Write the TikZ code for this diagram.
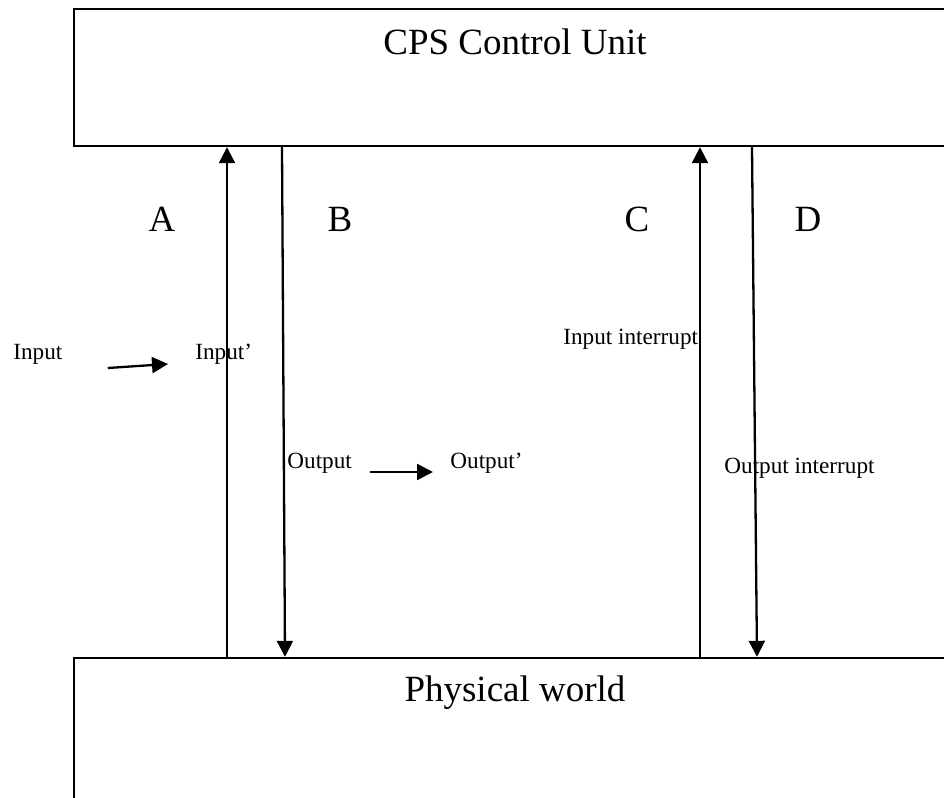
\documentclass[tikz,border=0pt]{standalone}
\usepackage{fontspec}
\setmainfont{Liberation Serif}
\usetikzlibrary{arrows.meta,calc}

\begin{document}
\begin{tikzpicture}[x=0.5pt, y=-0.5pt,
    panel/.style={draw, line width=1.2pt, inner sep=0pt},
    bigtext/.style={inner sep=0pt, anchor=base, font=\fontsize{18.5}{22}\selectfont},
    smalltext/.style={inner sep=0pt, anchor=base west, font=\fontsize{11.6}{14}\selectfont},
    flow/.style={line width=1.15pt, -{Triangle[length=8pt,width=8pt]}}]
        \useasboundingbox (0,0) rectangle (944,798);

        % the two blocks, both run off the right edge
        \node[panel, minimum width=448pt, minimum height=68.5pt] (cpu) at (522,77.5) {};
        \node[panel, minimum width=448pt, minimum height=86pt] (world) at (522,744) {};

        \node[bigtext] (cputitle) at (515,54) {CPS Control Unit};
        \node[bigtext] (worldtitle) at (515,701) {Physical world};

        \node[bigtext] (labA) at (162,231) {A};
        \node[bigtext] (labB) at (340,231) {B};
        \node[bigtext] (labC) at (637,231) {C};
        \node[bigtext] (labD) at (808,231) {D};

        % vertical links
        \draw[flow] (world.north -| 227,0) -- (cpu.south -| 227,0);
        \draw[flow] (cpu.south -| 282,0) -- (world.north -| 285,0);
        \draw[flow] (world.north -| 700,0) -- (cpu.south -| 700,0);
        \draw[flow] (cpu.south -| 752,0) -- (world.north -| 757,0);

        \node[smalltext] (inp) at (13,359) {Input};
        \node[smalltext] (inpp) at (195,359) {Input’};
        \node[smalltext] (outp) at (287,468) {Output};
        \node[smalltext] (outpp) at (450,468) {Output’};
        \node[smalltext] (inint) at (563,344) {Input interrupt};
        \node[smalltext] (outint) at (724,473) {Output interrupt};

        \draw[flow] ($(inp.base east)+(45,9)$) -- ($(inpp.base west)+(-27,5)$);
        \draw[flow] ($(outp.base east)+(18,4)$) -- ($(outpp.base west)+(-17,4)$);
    \end{tikzpicture}
\end{document}
